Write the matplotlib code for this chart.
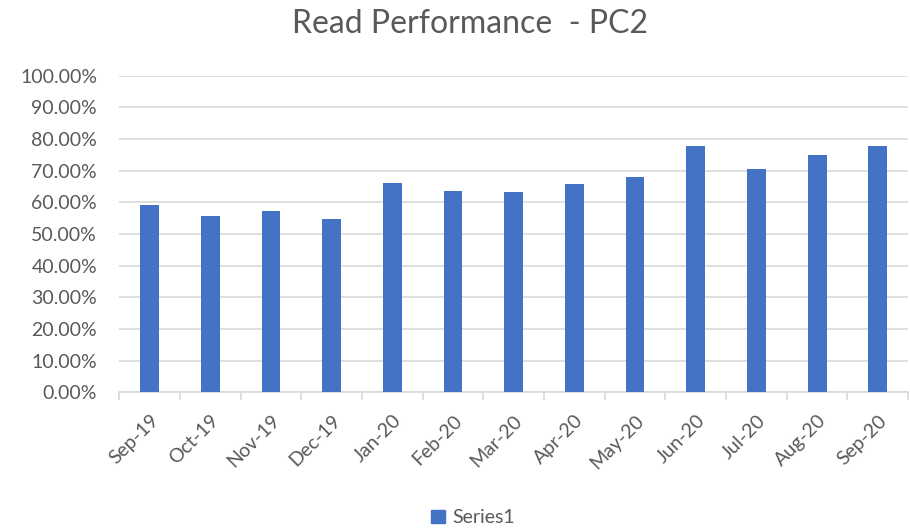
import matplotlib.pyplot as plt
from matplotlib.ticker import PercentFormatter, FixedLocator
from matplotlib.patches import Patch

months = ['Sep-19', 'Oct-19', 'Nov-19', 'Dec-19', 'Jan-20', 'Feb-20', 'Mar-20',
          'Apr-20', 'May-20', 'Jun-20', 'Jul-20', 'Aug-20', 'Sep-20']
read_perf = [59.2, 55.8, 57.3, 54.7, 66.1, 63.6, 63.2, 65.7, 68.1, 77.9, 70.5, 74.9, 77.9]

plt.rcParams['font.family'] = ['Lato', 'DejaVu Sans']
text_col = '#595959'
grid_col = '#d9d9d9'
bar_col = '#4472C4'

fig = plt.figure(figsize=(9.1, 5.32), dpi=100)
ax = fig.add_axes([0.131, 0.2626, 0.867, 0.5951])

x = range(len(months))
ax.bar(x, read_perf, width=0.31, color=bar_col, zorder=3)

ax.set_xlim(-0.5, len(months) - 0.5)
ax.set_ylim(0, 100)
ax.yaxis.set_major_locator(FixedLocator(range(0, 101, 10)))
ax.yaxis.set_major_formatter(PercentFormatter(decimals=2))
ax.grid(axis='y', color=grid_col, linewidth=1.2, zorder=0)

for s in ['top', 'right', 'left']:
    ax.spines[s].set_visible(False)
ax.spines['bottom'].set_color(grid_col)
ax.spines['bottom'].set_linewidth(1.2)

ax.tick_params(axis='y', length=0, labelsize=14, labelcolor=text_col, pad=16)
ax.set_xticks(list(x))
ax.set_xticklabels(months, rotation=45, ha='right', rotation_mode='anchor',
                   fontsize=14, color=text_col)
ax.tick_params(axis='x', length=0, pad=14)
# category boundary tick marks
ax.set_xticks([i - 0.5 for i in range(len(months) + 1)], minor=True)
ax.tick_params(axis='x', which='minor', length=6, color=grid_col, width=1.2)

fig.text(0.516, 0.955, 'Read Performance  - PC2', ha='center', va='center',
         fontsize=23, color=text_col)

fig.legend(handles=[Patch(color=bar_col, label='Series1')], loc='center',
           bbox_to_anchor=(0.52, 0.027), frameon=False, fontsize=14,
           handlelength=0.7, handleheight=0.7, handletextpad=0.4,
           labelcolor=text_col)

fig.savefig('out.png', dpi=100)
